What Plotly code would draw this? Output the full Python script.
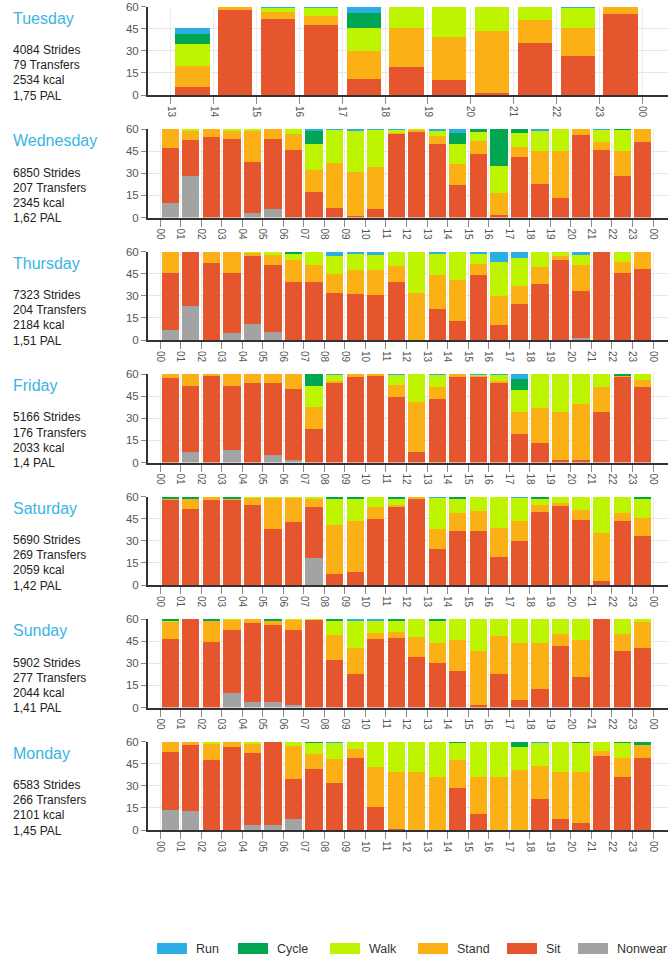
import plotly.graph_objects as go

W, H = 668, 960
FONT = "Liberation Sans, Arial, sans-serif"

# ---------------- data ----------------
DAYS = ["Tuesday", "Wednesday", "Thursday", "Friday", "Saturday", "Sunday", "Monday"]
STRIDES = [4084, 6850, 7323, 5166, 5690, 5902, 6583]
TRANSFERS = [79, 207, 204, 176, 269, 277, 266]
KCAL = [2534, 2345, 2184, 2033, 2059, 2044, 2101]
PAL = ["1,75", "1,62", "1,51", "1,4", "1,42", "1,41", "1,45"]

STACK_ORDER = ["Nonwear", "Sit", "Stand", "Walk", "Cycle", "Run"]
LEGEND_ORDER = ["Run", "Cycle", "Walk", "Stand", "Sit", "Nonwear"]

TUE_HOURS = list(range(13, 24))
FULL_HOURS = list(range(24))

# Tuesday (13..23)
TUE_NONWEAR = [0, 0, 0, 0, 0, 0, 0, 0, 0, 0, 0]
TUE_SIT = [6, 58, 52, 48, 11, 19.5, 10.5, 2, 35.5, 26.5, 55.5]
TUE_STAND = [14, 2, 4.5, 6, 19, 26, 29, 41.5, 15.5, 19, 4.5]
TUE_WALK = [15, 0, 3, 5.5, 15.5, 14.5, 20.5, 16.5, 9, 14, 0]
TUE_CYCLE = [7, 0, 0, 0, 10.5, 0, 0, 0, 0, 0, 0]
TUE_RUN = [4, 0, 0.5, 0.5, 4, 0, 0, 0, 0, 0.5, 0]

# Wednesday (00..23)
WED_NONWEAR = [10, 28, 0, 0, 3, 5.5, 0, 0, 0, 0, 0, 0, 0, 0, 0, 0, 0, 0, 0, 0, 0, 0, 0, 0]
WED_SIT = [37, 24.5, 54.5, 53.5, 34.5, 48, 46, 17, 6.5, 1, 5.5, 57, 58.5, 50, 22, 43, 2, 41, 23, 13.5, 56, 45.5, 28, 51]
WED_STAND = [13, 6, 5.5, 5, 21, 6.5, 10.5, 15.5, 30.5, 30, 29, 0.5, 1, 5.5, 14, 9, 14.5, 7, 22, 31.5, 4, 5.5, 17, 9]
WED_WALK = [0, 1.5, 0, 1.5, 1.5, 0, 3.5, 17.5, 22.5, 27.5, 25, 2, 0.5, 3.5, 13.5, 6, 18.5, 9.5, 14, 15, 0, 8.5, 14.5, 0]
WED_CYCLE = [0, 0, 0, 0, 0, 0, 0, 8.5, 0, 0, 0, 0, 0, 0, 8, 2, 25, 2.5, 0, 0, 0, 0, 0.5, 0]
WED_RUN = [0, 0, 0, 0, 0, 0, 0, 1.5, 0.5, 1.5, 0.5, 0.5, 0, 1, 2.5, 0, 0, 0, 1, 0, 0, 0.5, 0, 0]

# Thursday
THU_NONWEAR = [7, 23.5, 0, 5, 11.5, 6, 0, 0, 0, 0, 0, 0, 0, 0, 0, 0, 0, 0, 0, 0, 2, 0, 0, 0]
THU_SIT = [38.5, 36.5, 52.5, 40.5, 45.5, 45.5, 39.5, 40, 32.5, 31.5, 31, 40, 0, 21.5, 13, 44.5, 10.5, 24.5, 38.5, 54.5, 31.5, 60, 45.5, 48.5]
THU_STAND = [14.5, 0, 7.5, 14.5, 2.5, 6.5, 15, 11, 12.5, 16, 16.5, 10.5, 32.5, 23, 28, 7.5, 19.5, 12.5, 11, 2.5, 18, 0, 7.5, 11.5]
THU_WALK = [0, 0, 0, 0, 0.5, 2, 4.5, 9, 12, 11.5, 10.5, 9.5, 27.5, 14.5, 19, 7, 23.5, 19, 10.5, 3, 6.5, 0, 7, 0]
THU_CYCLE = [0, 0, 0, 0, 0, 0, 1, 0, 0, 0, 0, 0, 0, 0, 0, 0, 0, 0, 0, 0, 0, 0, 0, 0]
THU_RUN = [0, 0, 0, 0, 0, 0, 0, 0, 3, 1, 2, 0, 0, 1, 0, 1, 6.5, 4, 0, 0, 2, 0, 0, 0]

# Friday
FRI_NONWEAR = [0, 7, 0, 8.5, 0, 5, 1.5, 0, 0, 0, 0, 0, 0, 0, 0, 0, 0, 0, 0, 0, 0, 0, 0, 0]
FRI_SIT = [57.5, 45, 58.5, 43.5, 54, 49, 48, 23, 54.5, 58, 59, 44.5, 7, 43, 58, 58, 54.5, 19.5, 13, 2, 2, 34.5, 58.5, 51.5]
FRI_STAND = [2.5, 8, 1.5, 8, 6, 6, 10.5, 14.5, 1, 2, 1, 8, 34, 8.5, 2, 1, 1, 14.5, 24, 32, 38, 16.5, 0.5, 4.5]
FRI_WALK = [0, 0, 0, 0, 0, 0, 0, 14.5, 4, 0, 0, 7, 19, 8, 0, 0.5, 4, 15, 23, 26, 20, 9, 0, 4]
FRI_CYCLE = [0, 0, 0, 0, 0, 0, 0, 8, 0, 0, 0, 0, 0, 0, 0, 0, 0, 7.5, 0, 0, 0, 0, 1, 0]
FRI_RUN = [0, 0, 0, 0, 0, 0, 0, 0, 0.5, 0, 0, 0.5, 0, 0.5, 0, 0.5, 0.5, 3.5, 0, 0, 0, 0, 0, 0]

# Saturday
SAT_NONWEAR = [0, 0, 0, 0, 0, 0, 0, 18.5, 0, 0, 0, 0, 0, 0, 0, 0, 0, 0, 0, 0, 0, 0, 0, 0]
SAT_SIT = [58, 52, 58, 58, 54.5, 38, 43, 35, 7.5, 9, 45, 53, 59, 24.5, 37, 37, 19, 30, 50, 54, 44.5, 3, 43.5, 33.5]
SAT_STAND = [1, 7, 2, 1, 5, 21.5, 16.5, 5, 33.5, 34.5, 8, 1.5, 1, 13.5, 12, 13.5, 20, 13.5, 4.5, 2, 6.5, 32.5, 5.5, 12]
SAT_WALK = [0, 0, 0, 0, 0.5, 0.5, 0.5, 1.5, 18, 15.5, 7, 4.5, 0, 21.5, 10, 9.5, 21, 16, 4.5, 4, 9, 24.5, 11, 13.5]
SAT_CYCLE = [1, 1, 0, 1, 0, 0, 0, 0, 1, 1, 0, 1, 0, 0, 1, 0, 0, 0, 1, 0, 0, 0, 0, 1]
SAT_RUN = [0, 0, 0, 0, 0, 0, 0, 0, 0, 0, 0, 0, 0, 0.5, 0, 0, 0, 0.5, 0, 0, 0, 0, 0, 0]

# Sunday
SUN_NONWEAR = [0, 0, 0, 9.5, 4, 4, 2, 0, 0, 0, 0, 0, 0, 0, 0, 0, 0, 0, 0, 0, 0, 0, 0, 0]
SUN_SIT = [46.5, 60, 44.5, 43, 53.5, 52, 50.5, 59.5, 32.5, 22.5, 46.5, 47, 34.5, 30.5, 25, 2, 22.5, 5, 12.5, 42, 21, 60, 38, 40.5]
SUN_STAND = [12, 0, 14.5, 7, 2.5, 3, 7, 0, 16.5, 18, 4, 4.5, 13.5, 13.5, 21, 36, 26, 39, 31, 8, 25, 0, 12, 17.5]
SUN_WALK = [0.5, 0, 0, 0.5, 0, 0, 0.5, 0.5, 10, 18.5, 8.5, 7.5, 12, 15, 14, 22, 11.5, 16, 16.5, 10, 14, 0, 10, 2]
SUN_CYCLE = [1, 0, 1, 0, 0, 1, 0, 0, 1, 0, 0, 1, 0, 1, 0, 0, 0, 0, 0, 0, 0, 0, 0, 0]
SUN_RUN = [0, 0, 0, 0, 0, 0, 0, 0, 0, 1, 1, 0, 0, 0, 0, 0, 0, 0, 0, 0, 0, 0, 0, 0]

# Monday
MON_NONWEAR = [14, 13, 0, 0, 3.5, 3.5, 8, 0, 0, 0, 0, 0, 0, 0, 0, 0, 0, 0, 0, 0, 0, 0, 0, 0]
MON_SIT = [39, 45, 48, 56.5, 49, 56.5, 27, 41.5, 32, 49, 16, 1, 0, 0, 28.5, 11, 0, 0, 21.5, 8, 5, 50.5, 36, 49]
MON_STAND = [7, 2, 11, 3.5, 6, 0, 22.5, 10.5, 16.5, 6.5, 27, 39, 39.5, 36.5, 19, 25, 36, 41, 22.5, 31.5, 34.5, 3.5, 13, 9]
MON_WALK = [0, 0, 1, 0, 1.5, 0, 2.5, 7.5, 11, 4.5, 17, 20, 20.5, 23.5, 12, 24, 24, 15.5, 15.5, 20.5, 20, 6, 10.5, 0]
MON_CYCLE = [0, 0, 0, 0, 0, 0, 0, 0.5, 0, 0, 0, 0, 0, 0, 0.5, 0, 0, 3.5, 0, 0, 0.5, 0, 0.5, 2]
MON_RUN = [0, 0, 0, 0, 0, 0, 0, 0, 0.5, 0, 0, 0, 0, 0, 0, 0, 0, 0, 0.5, 0, 0, 0, 0, 0]

DAY_HOURS = [TUE_HOURS] + [FULL_HOURS] * 6
DAY_SERIES = [
    [TUE_NONWEAR, TUE_SIT, TUE_STAND, TUE_WALK, TUE_CYCLE, TUE_RUN],
    [WED_NONWEAR, WED_SIT, WED_STAND, WED_WALK, WED_CYCLE, WED_RUN],
    [THU_NONWEAR, THU_SIT, THU_STAND, THU_WALK, THU_CYCLE, THU_RUN],
    [FRI_NONWEAR, FRI_SIT, FRI_STAND, FRI_WALK, FRI_CYCLE, FRI_RUN],
    [SAT_NONWEAR, SAT_SIT, SAT_STAND, SAT_WALK, SAT_CYCLE, SAT_RUN],
    [SUN_NONWEAR, SUN_SIT, SUN_STAND, SUN_WALK, SUN_CYCLE, SUN_RUN],
    [MON_NONWEAR, MON_SIT, MON_STAND, MON_WALK, MON_CYCLE, MON_RUN],
]

Y_TICKS = [0, 15, 30, 45, 60]

# ---------------- style ----------------
COLORS = {
    "Run": "#2BAEE3",
    "Cycle": "#00A651",
    "Walk": "#BFF400",
    "Stand": "#FBB116",
    "Sit": "#E5552E",
    "Nonwear": "#A3A3A3",
}
TITLE_COLOR = "#3AB5E3"

PLOT_LEFT_PX = 148
PANEL_TOP0 = 6.5
PANEL_STEP = 122.5
PANEL_H = 88.5


def py(px):
    return 1 - px / H


def pxx(px):
    return px / W


fig = go.Figure()
layout = dict(
    width=W, height=H,
    margin=dict(l=0, r=0, t=0, b=0, pad=0, autoexpand=False),
    paper_bgcolor="white", plot_bgcolor="white",
    barmode="stack", bargap=0, showlegend=False,
    font=dict(family=FONT, color="#333"),
)
annotations = []
shapes = []

for i, day in enumerate(DAYS):
    n = i + 1
    xa = "x" if n == 1 else f"x{n}"
    ya = "y" if n == 1 else f"y{n}"
    hours = DAY_HOURS[i]
    centers = [h + 0.5 for h in hours]
    bw = 0.8 if i == 0 else 0.84
    for name, vals in zip(STACK_ORDER, DAY_SERIES[i]):
        fig.add_trace(go.Bar(
            x=centers, y=vals, name=name, width=bw,
            marker=dict(color=COLORS[name], line=dict(width=0)),
            xaxis=xa, yaxis=ya, showlegend=False,
            hovertemplate=f"{day} %{{x}}<br>{name}: %{{y}} min<extra></extra>",
        ))

    top = PANEL_TOP0 + PANEL_STEP * i
    bottom = top + PANEL_H
    first, last = hours[0], hours[-1] + 1
    if i == 0:
        rng = [first - 0.537, last + 0.607]
    else:
        rng = [first - 0.584, last + 0.73]
    tickvals = list(range(first, last + 1))
    ticktext = [f"{t % 24:02d}" for t in tickvals]

    xkey = "xaxis" if n == 1 else f"xaxis{n}"
    ykey = "yaxis" if n == 1 else f"yaxis{n}"
    layout[xkey] = dict(
        domain=[pxx(PLOT_LEFT_PX), 1], anchor=ya, range=rng, automargin=False,
        tickvals=tickvals, ticktext=ticktext, tickangle=90,
        tickfont=dict(size=10, color="#555"),
        ticks="outside", ticklen=7, tickcolor="#8a8a8a", tickwidth=1,
        showline=True, linecolor="#333", linewidth=2,
        showgrid=True, gridcolor="#ececec", gridwidth=1,
        zeroline=False, fixedrange=True,
    )
    layout[ykey] = dict(
        domain=[py(bottom), py(top)], anchor=xa, range=[0, 60], automargin=False,
        tickvals=Y_TICKS, tickfont=dict(size=11.5, color="#555"),
        ticks="outside", ticklen=5, tickcolor="#8a8a8a", tickwidth=1,
        showline=True, linecolor="#333", linewidth=2,
        showgrid=True, gridcolor="#e6e6e6", gridwidth=1,
        zeroline=False, fixedrange=True,
    )

    annotations.append(dict(
        x=pxx(11), y=py(top + 11.5), xref="paper", yref="paper",
        xanchor="left", yanchor="middle", showarrow=False,
        text=day, font=dict(family=FONT, size=16, color=TITLE_COLOR),
    ))
    stats = [f"{STRIDES[i]} Strides", f"{TRANSFERS[i]} Transfers",
             f"{KCAL[i]} kcal", f"{PAL[i]} PAL"]
    for k, s in enumerate(stats):
        annotations.append(dict(
            x=pxx(11), y=py(top + 43.5 + 15.2 * k), xref="paper", yref="paper",
            xanchor="left", yanchor="middle", showarrow=False,
            text=s, font=dict(family=FONT, size=12, color="#222"),
        ))

# custom legend (wide swatches like the reference)
LEG_X = [157, 238, 330, 418, 507, 578]
LEG_Y = 948.5
for name, x0 in zip(LEGEND_ORDER, LEG_X):
    shapes.append(dict(
        type="rect", xref="paper", yref="paper",
        x0=pxx(x0), x1=pxx(x0 + 30), y0=py(LEG_Y + 5.5), y1=py(LEG_Y - 5.5),
        fillcolor=COLORS[name], line=dict(width=0),
    ))
    annotations.append(dict(
        x=pxx(x0 + 37), y=py(LEG_Y), xref="paper", yref="paper",
        xanchor="left", yanchor="middle", showarrow=False,
        text=name, font=dict(family=FONT, size=12.5, color="#333"),
    ))

layout["annotations"] = annotations
layout["shapes"] = shapes
fig.update_layout(**layout)
fig.write_html(
    "out.html",
    config={"displayModeBar": False},
    post_script="document.body.style.margin='0';document.body.style.padding='0';",
)
